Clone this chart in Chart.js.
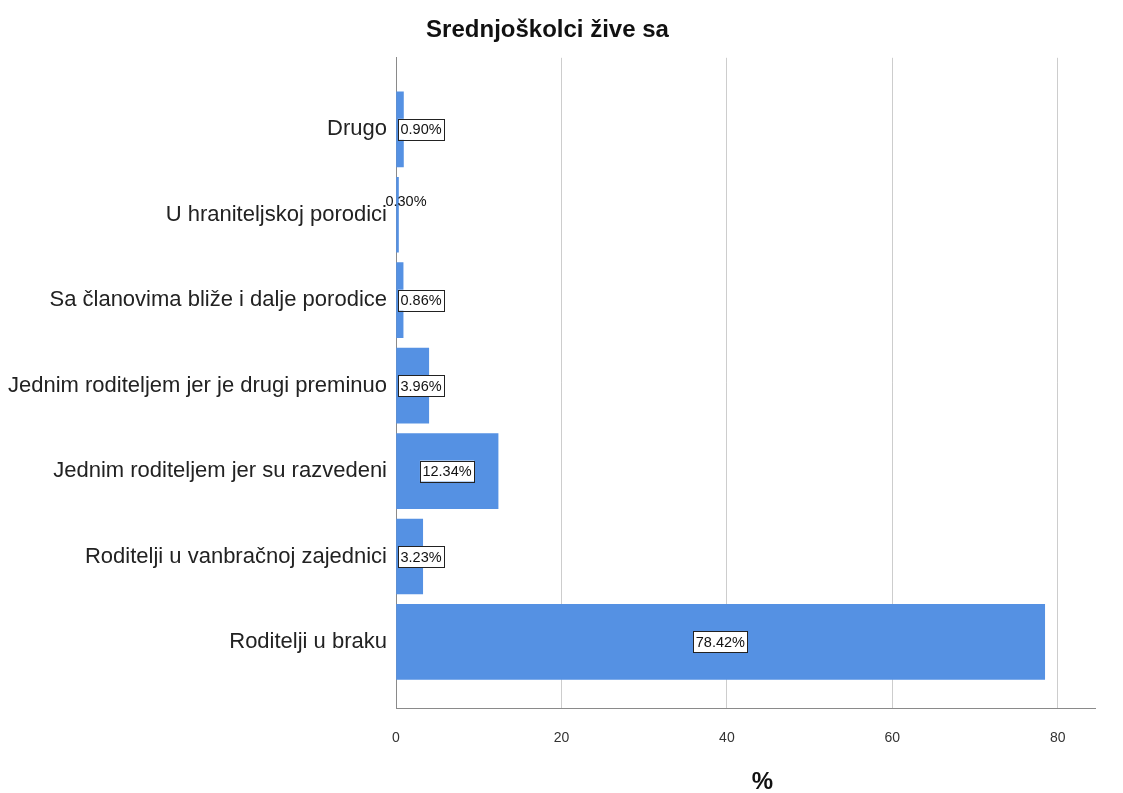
<!DOCTYPE html>
<html>
<head>
<meta charset="utf-8">
<script src="https://cdn.jsdelivr.net/npm/chart.js@4.4.1/dist/chart.umd.min.js"></script>
<style>
  body { margin: 0; background: #fff; }
  #wrap { width: 1123px; height: 793px; }
</style>
</head>
<body>
<div id="wrap"><canvas id="livingChart" width="1123" height="793"></canvas></div>
<script>
const categories = [
    'Drugo',
    'U hraniteljskoj porodici',
    'Sa članovima bliže i dalje porodice',
    'Jednim roditeljem jer je drugi preminuo',
    'Jednim roditeljem jer su razvedeni',
    'Roditelji u vanbračnoj zajednici',
    'Roditelji u braku'
];
const percents = [0.90, 0.30, 0.86, 3.96, 12.34, 3.23, 78.42];
const xTicks = [0, 20, 40, 60, 80];
const xTitle = '%';

const barBlue = '#5591e3';
const regular = '"Liberation Sans", Arial, sans-serif';

// value labels: white box with dark border, tiny values get plain text above the bar
const valueLabels = {
    id: 'valueLabels',
    afterDatasetsDraw(chart) {
        const ctx = chart.ctx;
        const meta = chart.getDatasetMeta(0);
        const left = chart.scales.x.getPixelForValue(0);
        ctx.save();
        ctx.font = '14.5px ' + regular;
        ctx.textBaseline = 'middle';
        meta.data.forEach((bar, i) => {
            const txt = percents[i].toFixed(2) + '%';
            const w = ctx.measureText(txt).width;
            const cx = (left + bar.x) / 2;
            if (percents[i] < 0.5) {
                ctx.fillStyle = '#111';
                ctx.textAlign = 'center';
                ctx.fillText(txt, left + 10, bar.y - 13);
                return;
            }
            const bw = w + 5, bh = 21;
            let bx = cx - bw / 2;
            if (bx < left + 2) bx = left + 2;
            const by = bar.y - bh / 2;
            ctx.fillStyle = '#fff';
            ctx.fillRect(bx, by, bw, bh);
            ctx.strokeStyle = '#222';
            ctx.lineWidth = 1;
            ctx.strokeRect(Math.round(bx) + 0.5, Math.round(by) + 0.5, Math.round(bw), bh);
            ctx.fillStyle = '#111';
            ctx.textAlign = 'center';
            ctx.fillText(txt, bx + bw / 2, bar.y + 1);
        });
        ctx.restore();
    }
};

// axis title sits a bit right of the plot centre in the original
const axisTitle = {
    id: 'axisTitle',
    afterDraw(chart) {
        const xs = chart.scales.x;
        const ctx = chart.ctx;
        ctx.save();
        ctx.font = 'bold 24px ' + regular;
        ctx.fillStyle = '#111';
        ctx.textAlign = 'center';
        ctx.textBaseline = 'middle';
        ctx.fillText(xTitle, (xs.left + xs.right) / 2 + 17, 782);
        ctx.restore();
    }
};

function initChart() {
    const ctx = document.getElementById('livingChart').getContext('2d');
    new Chart(ctx, {
        type: 'bar',
        data: {
            datasets: [{
                label: xTitle,
                data: percents.map((v, i) => ({ x: v, y: i })),
                backgroundColor: barBlue,
                borderWidth: 0,
                barThickness: 75
            }]
        },
        options: {
            indexAxis: 'y',
            responsive: false,
            animation: false,
            layout: { padding: { left: 0, right: 28, top: 0, bottom: 0 } },
            plugins: {
                legend: { display: false },
                tooltip: { enabled: false },
                title: {
                    display: true,
                    text: 'Srednjoškolci žive sa',
                    color: '#111',
                    font: { family: regular, size: 24, weight: 'bold' },
                    padding: { top: 16, bottom: 13 }
                }
            },
            scales: {
                x: {
                    type: 'linear',
                    min: 0,
                    max: 84.5,
                    afterBuildTicks: scale => { scale.ticks = xTicks.map(v => ({ value: v })); },
                    afterFit: scale => { scale.height = 85; },
                    ticks: {
                        color: '#333',
                        padding: 22,
                        font: { family: regular, size: 14 }
                    },
                    grid: {
                        drawTicks: false,
                        color: c => (c.tick && c.tick.value === 0) ? 'rgba(0,0,0,0)' : '#cdcdcd'
                    },
                    border: { display: true, color: '#8a8a8a', width: 1 }
                },
                y: {
                    type: 'linear',
                    reverse: true,
                    offset: false,
                    min: -0.837,
                    max: 6.773,
                    afterBuildTicks: scale => { scale.ticks = categories.map((c, i) => ({ value: i })); },
                    afterFit: scale => { scale.width = 396; },
                    ticks: {
                        color: '#222',
                        padding: 9,
                        autoSkip: false,
                        font: { family: regular, size: 22 },
                        callback: v => categories[v]
                    },
                    grid: { display: false, drawTicks: false },
                    border: { display: true, color: '#8a8a8a', width: 1 }
                }
            }
        },
        plugins: [valueLabels, axisTitle]
    });
}

window.onload = initChart;
</script>
</body>
</html>
